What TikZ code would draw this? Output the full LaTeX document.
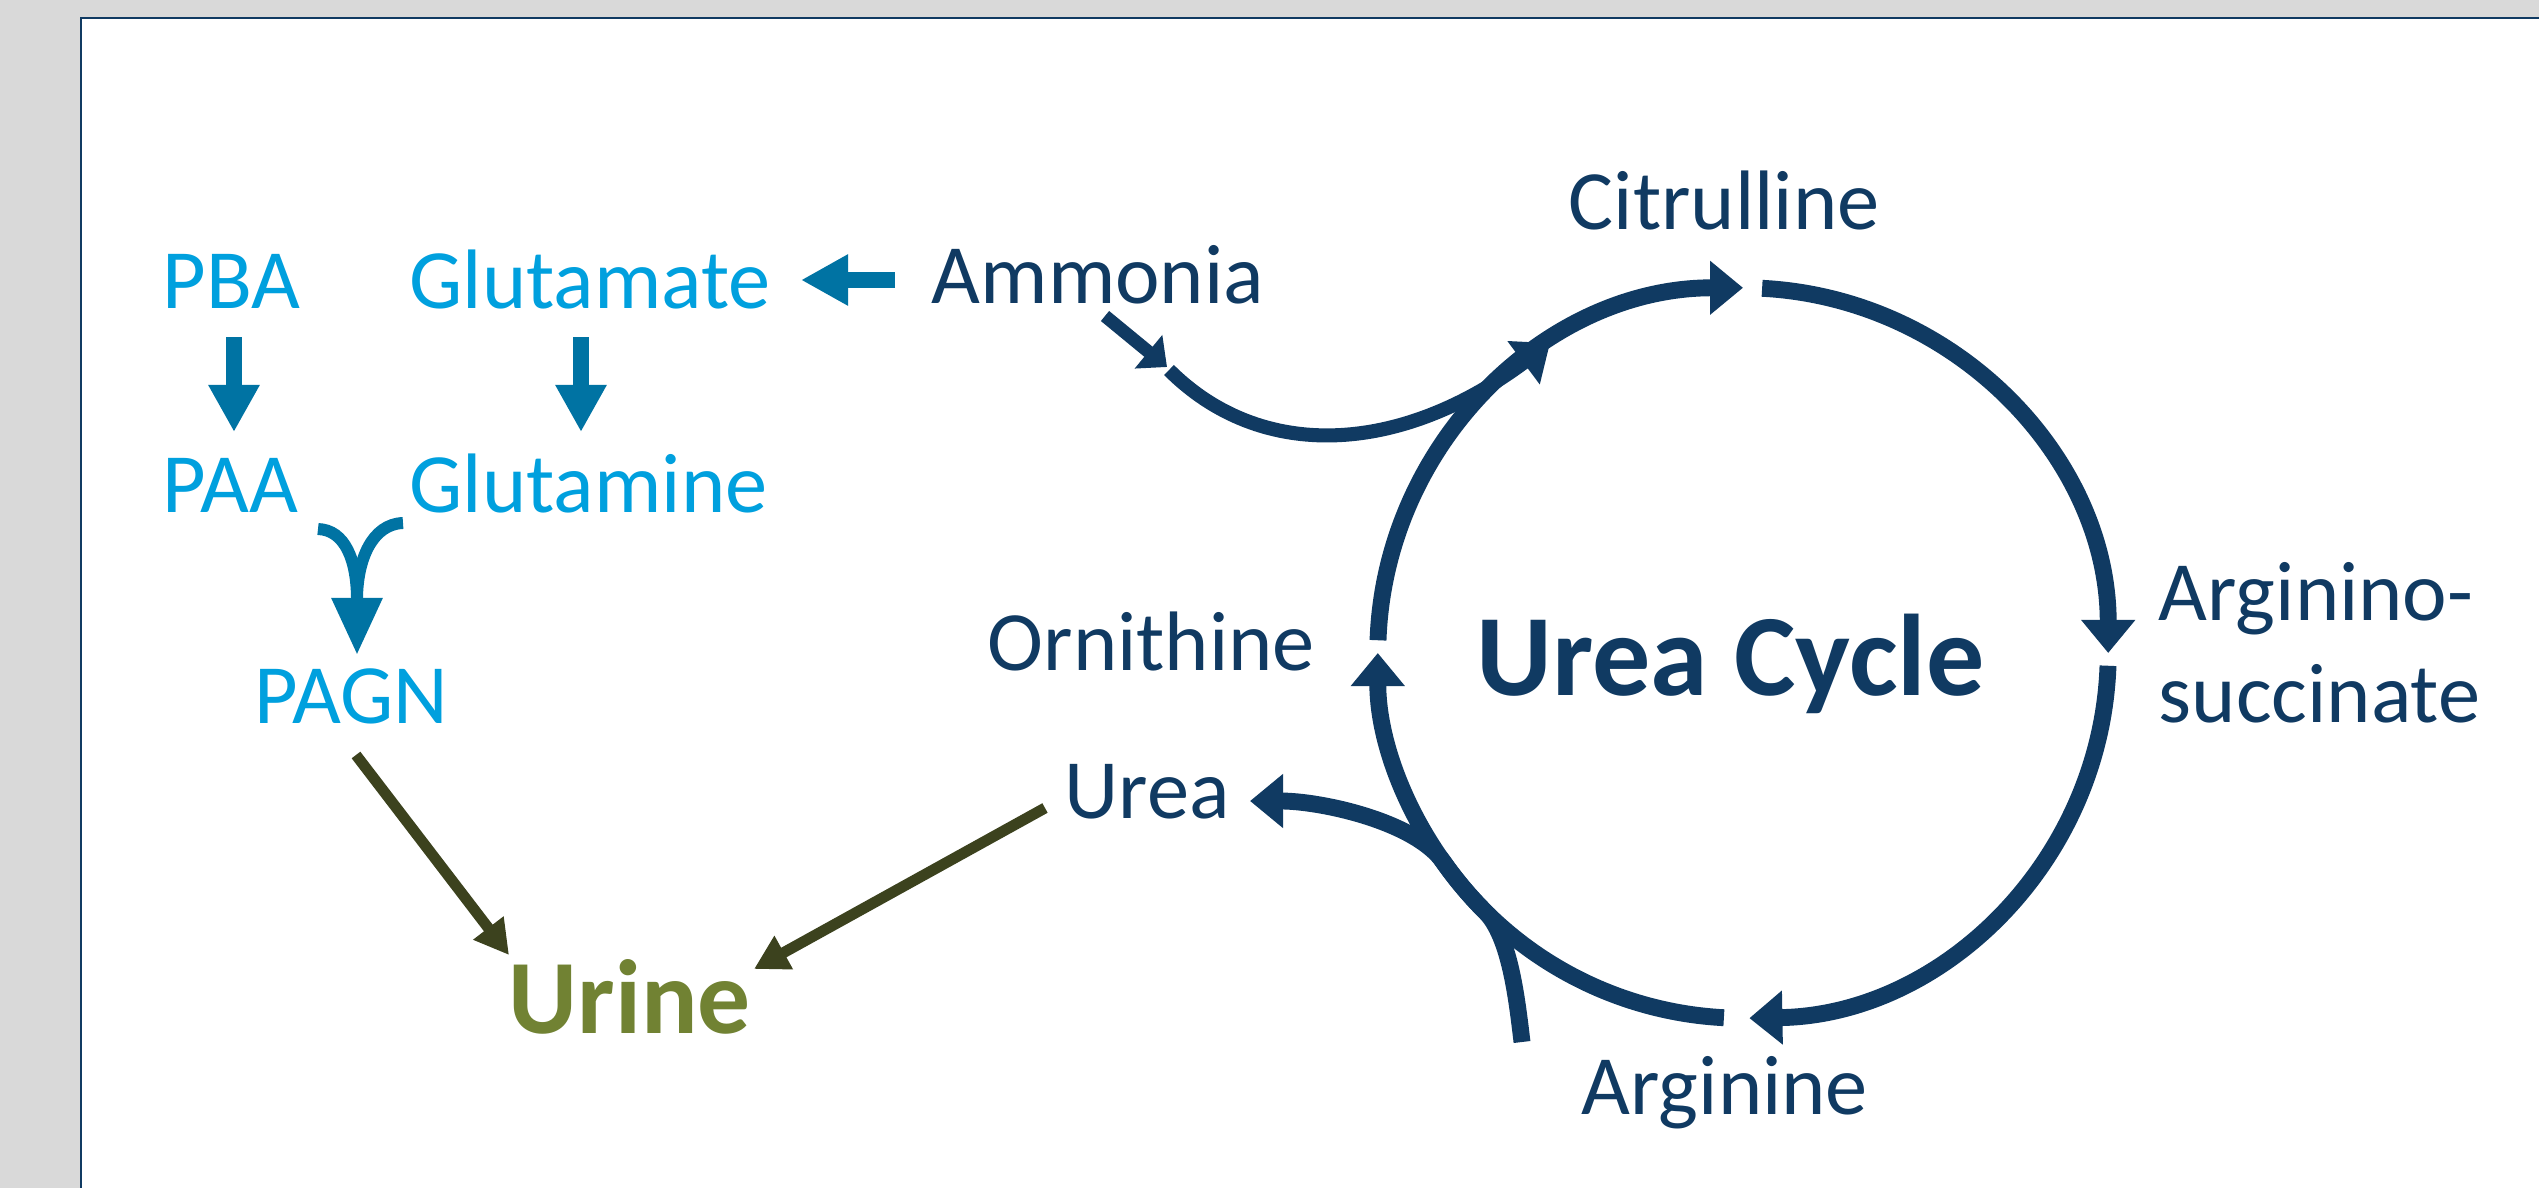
\documentclass[tikz,border=0pt]{standalone}
\usepackage{fontspec}
\setmainfont{Carlito}
\usetikzlibrary{arrows.meta, calc}
\definecolor{cyclenavy}{RGB}{16,58,98}
\definecolor{drugblue}{RGB}{0,160,222}
\definecolor{drugteal}{RGB}{0,115,163}
\definecolor{urineolive}{RGB}{60,66,30}
\definecolor{urinegreen}{RGB}{113,130,51}
\definecolor{panelgray}{RGB}{217,217,217}
\tikzset{
  metab/.style={font=\fontsize{24}{29}\selectfont, text=cyclenavy, inner sep=0pt, anchor=base west},
  drug/.style={metab, text=drugblue},
  drugarrow/.style={draw=drugteal, line width=4.4pt, -{Triangle[width=0.48cm, length=0.47cm]}},
  mergearrow/.style={draw=drugteal, line width=3.4pt, -{Triangle[width=0.48cm, length=0.57cm]}},
  cyclearrow/.style={draw=cyclenavy, line width=4.8pt, -{Triangle[width=0.52cm, length=0.33cm]}},
  feedarrow/.style={draw=cyclenavy, line width=3.7pt, -{Triangle[width=0.42cm, length=0.24cm]}},
  outarrow/.style={draw=urineolive, line width=3.1pt, -{Triangle[width=0.36cm, length=0.34cm]}},
}

\begin{document}
\begin{tikzpicture}[x=0.01cm, y=-0.01cm]
                \useasboundingbox (0,0) rectangle (2539,1188);
                \fill[panelgray] (0,0) rectangle (2539,1188);
                \fill[white] (81,18) rectangle (2539,1188);
                \draw[cyclenavy, line width=0.85pt] (81,1188) -- (81,18) -- (2539,18);

                % drug side
                \node[drug] (pba) at (162,308) {PBA};
                \node[drug] (glutamate) at (409,308) {Glutamate};
                \node[drug] (paa) at (162,512) {PAA};
                \node[drug] (glutamine) at (409,512) {Glutamine};
                \node[drug] (pagn) at (254,723) {PAGN};
                \node[metab] (ammonia) at (931,304) {Ammonia};
                \node[metab, text=urinegreen, font=\fontsize{30}{36}\selectfont\bfseries]
                    (urine) at (508,1033) {Urine};

                % cycle labels
                \node[metab] (citrulline) at (1568,230) {Citrulline};
                \node[metab, align=left] (argsucc) at (2158,722) {Arginino-\\succinate};
                \node[metab] (arginine) at (1581,1114) {Arginine};
                \node[metab] (ornithine) at (987,670) {Ornithine};
                \node[metab] (urea) at (1064,818) {Urea};
                \node[metab, font=\fontsize{33}{39}\selectfont\bfseries]
                    (cycle) at (1476,695) {Urea Cycle};

                \coordinate (ctr) at (1743,653);
                \coordinate (pbaout) at (234,337);
                \coordinate (paain) at (234,432);
                \coordinate (gluout) at (581,337);
                \coordinate (glnin) at (581,432);
                \coordinate (ammout) at (895,280);
                \coordinate (gluin) at (801,280);
                \coordinate (paaout) at (318,529);
                \coordinate (glnout) at (403,523);
                \coordinate (merge) at (357,600);
                \coordinate (pagnin) at (357,655);
                \coordinate (pagnout) at (356,755);
                \coordinate (urinein) at (509,955);
                \coordinate (ureaout) at (1045,808);
                \coordinate (urinein2) at (754,969);
                \coordinate (feedtail) at (1105,316);
                \coordinate (feedtip) at (1167,367);
                \coordinate (feedstart) at (1169,370);
                \coordinate (feedend) at (1550,343);
                \coordinate (ornstart) at (1522,1042);
                \coordinate (ureatip) at (1250,801);

                \draw[drugarrow] (pbaout) -- (paain);
                \draw[drugarrow] (gluout) -- (glnin);
                \draw[drugarrow] (ammout) -- (gluin);
                \draw[mergearrow] (paaout) .. controls (345,530) and (357,560) .. (merge) -- (pagnin);
                \draw[draw=drugteal, line width=3.4pt] (glnout) .. controls (372,524) and (357,560) .. (merge);
                \draw[outarrow] (pagnout) -- (urinein);
                \draw[outarrow] (ureaout) -- (urinein2);

                % urea cycle
                \draw[cyclearrow] ($(ctr)+(178:3.65cm)$) arc[start angle=178, end angle=90, radius=3.65cm];
                \draw[cyclearrow] ($(ctr)+(87:3.65cm)$) arc[start angle=87, end angle=0, radius=3.65cm];
                \draw[cyclearrow] ($(ctr)+(-2:3.65cm)$) arc[start angle=-2, end angle=-89, radius=3.65cm];
                \draw[cyclearrow] ($(ctr)+(-93:3.65cm)$) arc[start angle=-93, end angle=-145, radius=3.65cm]
                    .. controls (1415,821) and (1320,801) .. (ureatip);
                \draw[cyclearrow] (ornstart) .. controls (1517,1000) and (1510,936) .. ($(ctr)+(-135:3.65cm)$)
                    arc[start angle=-135, end angle=-180, radius=3.65cm];
                \draw[feedarrow] (feedtail) -- (feedtip);
                \draw[cyclearrow, line width=4pt] (feedstart) .. controls (1261,462) and (1400,455) .. (feedend);
            \end{tikzpicture}
\end{document}
